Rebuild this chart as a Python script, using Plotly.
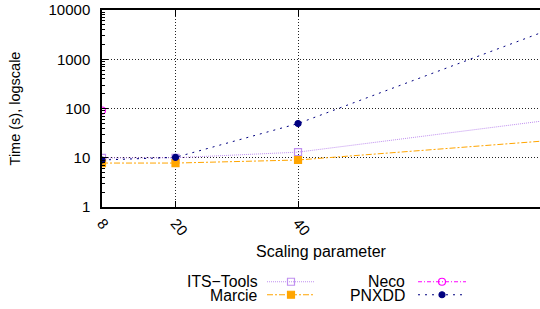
import plotly.graph_objects as go

# Data
scaling = [8, 20, 40, 100]
its_tools = [9.9, 10.0, 13.0, 116]
marcie = [7.8, 7.8, 9.0, 34]
neco_x = [8]
neco = [91]
pnxdd = [9.0, 10.2, 49.5, 30500]

y_tickvals = [1, 10, 100, 1000, 10000]
y_ticktext = ["1", "10", "100", "1000", "10000"]
x_tickvals = [8, 20, 40]
y_minor = [m * v for v in y_tickvals[:-1] for m in range(2, 10)]

FONT = "Liberation Sans, Arial, sans-serif"
FS = 15

fig = go.Figure()

series = [
    dict(name="ITS\u2212Tools", x=scaling, y=its_tools, color="#c090f0", dash="1px,1px",
         symbol="square-open", size=7, legend="legend"),
    dict(name="Marcie", x=scaling, y=marcie, color="#ffa500", dash="6px,2px,2px,2px",
         symbol="square", size=7, legend="legend2"),
    dict(name="Neco", x=neco_x, y=neco, color="#ff00ff", dash="4px,2px,1px,2px",
         symbol="circle-open", size=7, legend="legend3"),
    dict(name="PNXDD", x=scaling, y=pnxdd, color="#000080", dash="2px,5px",
         symbol="circle", size=6, legend="legend4"),
]

for s in series:
    fig.add_trace(go.Scatter(
        x=s["x"], y=s["y"], mode="lines+markers", name=" ",
        line=dict(color=s["color"], width=1, dash=s["dash"]),
        marker=dict(symbol=s["symbol"], size=s["size"], color=s["color"],
                    line=dict(color=s["color"], width=1.2)),
        legend=s["legend"], showlegend=True, cliponaxis=True,
    ))

W, H = 540, 309
L, R, T, B = 102, 0, 10, 102
pw = W - L - R
ph = H - T - B

def px_x(p):
    return (p - L) / pw

def px_y(p):
    return (H - B - p) / ph

legend_common = dict(font=dict(family=FONT, size=FS, color="#000"), bgcolor="rgba(0,0,0,0)",
                     borderwidth=0, itemwidth=48,
                     xanchor="left", yanchor="middle", tracegroupgap=0)

fig.update_layout(
    width=W, height=H,
    margin=dict(l=L, r=R, t=T, b=B, autoexpand=False),
    paper_bgcolor="white", plot_bgcolor="white",
    font=dict(family=FONT, size=FS, color="#000"),
    legend=dict(x=px_x(262), y=px_y(282), **legend_common),
    legend2=dict(x=px_x(262), y=px_y(295), **legend_common),
    legend3=dict(x=px_x(413), y=px_y(282), **legend_common),
    legend4=dict(x=px_x(413), y=px_y(295), **legend_common),
    xaxis=dict(
        range=[8, 79.5], tickvals=x_tickvals, ticktext=[str(v) for v in x_tickvals],
        tickangle=50, ticks="inside", ticklen=6, tickcolor="#000", mirror="allticks",
        showline=True, linecolor="#000", linewidth=1.5,
        showgrid=True, gridcolor="#222", griddash="1px,2px", gridwidth=1,
        zeroline=False, automargin=False,
        title=dict(text="Scaling parameter", standoff=8, font=dict(size=16)),
    ),
    yaxis=dict(
        type="log", range=[0, 4], tickvals=y_tickvals, ticktext=y_ticktext,
        ticks="inside", ticklen=6, tickcolor="#000",
        showline=True, linecolor="#000", linewidth=1.5,
        showgrid=True, gridcolor="#222", griddash="1px,2px", gridwidth=1,
        zeroline=False, ticklabelstandoff=7, automargin=False,
        minor=dict(tickmode="array", tickvals=y_minor, ticks="inside", ticklen=3,
                   tickcolor="#000", showgrid=False),
        title=dict(text="Time (s), logscale", standoff=24, font=dict(size=14.5)),
    ),
)

labels = [("ITS\u2212Tools", 260, 281), ("Marcie", 260, 295), ("Neco", 407, 281), ("PNXDD", 407, 295)]
for text, xr, yc in labels:
    fig.add_annotation(text=text, x=px_x(xr), y=px_y(yc), xref="paper", yref="paper",
                       xanchor="right", yanchor="middle", showarrow=False,
                       font=dict(family=FONT, size=15.8, color="#000"))

fig.write_html("out.html", config={"displayModeBar": False},
               post_script="document.body.style.margin='0';")
